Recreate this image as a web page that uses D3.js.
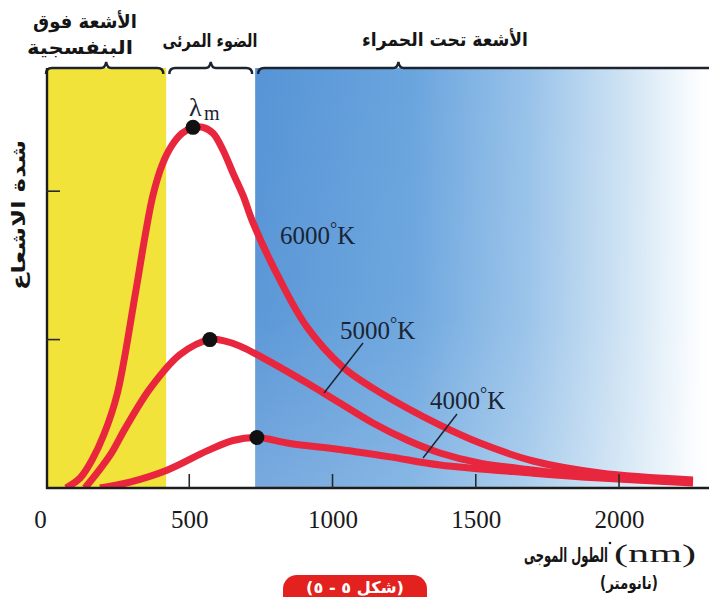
<!DOCTYPE html>
<html>
<head>
<meta charset="utf-8">
<script src="https://cdn.jsdelivr.net/npm/d3@7"></script>
<style>
  html, body { margin: 0; padding: 0; background: #fff; }
  svg { display: block; }
</style>
</head>
<body>
<svg id="chart" width="709" height="597"></svg>
<script>
// ---------------- data ----------------
const xTickValues = [0, 500, 1000, 1500, 2000];
const xTickLabels = ["0", "500", "1000", "1500", "2000"];
const yTickValues = [1, 2];

const regionNames = ["الأشعة فوق البنفسجية", "الضوء المرئى", "الأشعة تحت الحمراء"];
const regionStart = [0, 420, 730];
const regionEnd   = [420, 730, 2300];
const bracePeak   = [210, 575, 1230];

const wl6000 = [70, 119, 161, 202, 248, 311, 346, 373, 405, 440, 475, 513, 548, 583, 618, 653, 688, 722, 817, 911, 1036, 1141, 1260, 1375, 1515, 1700, 1934, 2258];
const v6000  = [0, 0.067, 0.19, 0.36, 0.63, 1.30, 1.70, 1.97, 2.175, 2.31, 2.39, 2.43, 2.43, 2.39, 2.276, 2.12, 1.97, 1.79, 1.40, 1.084, 0.815, 0.673, 0.539, 0.424, 0.303, 0.182, 0.101, 0.054];

const wl5000 = [136, 181, 230, 276, 363, 468, 572, 625, 677, 792, 911, 1026, 1141, 1260, 1375, 1515, 1700, 1934, 2258];
const v5000  = [0, 0.108, 0.24, 0.40, 0.67, 0.90, 1.00, 0.99, 0.956, 0.84, 0.707, 0.572, 0.438, 0.323, 0.236, 0.168, 0.121, 0.074, 0.04];

const wl4000 = [188, 293, 422, 562, 653, 736, 852, 1026, 1201, 1375, 1700, 1934, 2258];
const v4000  = [0, 0.04, 0.12, 0.25, 0.32, 0.34, 0.30, 0.26, 0.21, 0.155, 0.10, 0.067, 0.034];

const seriesNames = ["6000°K", "5000°K", "4000°K"];
const peakWl  = [513, 572, 736];
const peakVal = [2.43, 1.00, 0.34];

// ---------------- drawing ----------------
const svg = d3.select("#chart");
const W = 709;
const x = d3.scaleLinear().domain([0, 2300]).range([46, 705]);
const y = d3.scaleLinear().domain([0, 2.83]).range([488, 68]);

const defs = svg.append("defs");
const grad = defs.append("linearGradient").attr("id", "irGrad")
  .attr("x1", "0%").attr("x2", "100%").attr("y1", "0%").attr("y2", "0%");
[[0, "#5694d6"], [0.35, "#6aa5de"], [0.6, "#98c2e9"], [0.82, "#d0e4f4"], [0.96, "#f7fbfe"], [1, "#ffffff"]]
  .forEach(([o, c]) => grad.append("stop").attr("offset", o).attr("stop-color", c));
const grad2 = defs.append("linearGradient").attr("id", "irFade")
  .attr("x1", "0%").attr("x2", "0%").attr("y1", "0%").attr("y2", "100%");
[[0, "#ffffff", 0], [0.6, "#ffffff", 0.04], [1, "#ffffff", 0.2]]
  .forEach(([o, c, a]) => grad2.append("stop").attr("offset", o).attr("stop-color", c).attr("stop-opacity", a));

const regionFills = ["#f2e33a", "#ffffff", "url(#irGrad)"];
regionStart.forEach((s, i) => {
  const x0 = x(s), x1 = i === 2 ? W : x(regionEnd[i]);
  svg.append("rect").attr("x", x0).attr("y", y(2.83)).attr("width", x1 - x0)
    .attr("height", y(0) - y(2.83)).attr("fill", regionFills[i]);
});
svg.append("rect").attr("x", x(730)).attr("y", y(2.83)).attr("width", W - x(730))
  .attr("height", y(0) - y(2.83)).attr("fill", "url(#irFade)");

// top brackets
const topY = y(2.83);
regionStart.forEach((s, i) => {
  const x0 = x(s) + (i === 0 ? 0 : 3);
  const x1 = i === 2 ? W + 5 : x(regionEnd[i]) - 3;
  const xm = x(bracePeak[i]);
  const p = d3.path();
  p.moveTo(x0, topY + 6);
  p.quadraticCurveTo(x0, topY, x0 + 6, topY);
  p.lineTo(xm - 5, topY);
  p.quadraticCurveTo(xm - 1, topY, xm, topY - 6);
  p.quadraticCurveTo(xm + 1, topY, xm + 5, topY);
  p.lineTo(x1 - 6, topY);
  p.quadraticCurveTo(x1, topY, x1, topY + 6);
  svg.append("path").attr("d", p.toString()).attr("fill", "none")
    .attr("stroke", "#1d2430").attr("stroke-width", 2.4);
});

// curves (clipped to plot area)
defs.append("clipPath").attr("id", "plotClip").append("rect")
  .attr("x", x(0)).attr("y", topY).attr("width", W - x(0)).attr("height", y(0) - topY);
const line = d3.line().x(d => x(d[0])).y(d => y(d[1])).curve(d3.curveCatmullRom.alpha(0.5));
const series = [[wl6000, v6000], [wl5000, v5000], [wl4000, v4000]];
const gCurves = svg.append("g").attr("clip-path", "url(#plotClip)");
series.forEach(([wl, v]) => {
  gCurves.append("path").datum(wl.map((w, i) => [w, v[i]]))
    .attr("d", line).attr("fill", "none").attr("stroke", "#e8263d")
    .attr("stroke-width", 7).attr("stroke-linecap", "butt").attr("stroke-linejoin", "round");
});

// axes
svg.append("line").attr("x1", x(0) + 1).attr("x2", x(0) + 1).attr("y1", topY).attr("y2", y(0) + 1)
  .attr("stroke", "#1d1d1d").attr("stroke-width", 2.4);
svg.append("line").attr("x1", x(0)).attr("x2", W).attr("y1", y(0)).attr("y2", y(0))
  .attr("stroke", "#1d1d1d").attr("stroke-width", 2.6);

const xAxis = d3.axisBottom(x).tickValues(xTickValues).tickSize(0).tickFormat((d, i) => xTickLabels[i]).tickPadding(22);
const gx = svg.append("g").attr("transform", `translate(0,${y(0)})`).call(xAxis);
gx.select(".domain").remove();
gx.selectAll("text").attr("font-family", "Liberation Serif, serif").attr("font-size", 25)
  .attr("fill", "#1a1a1a");
gx.selectAll("text").filter(d => d === 0).attr("dx", -6);
xTickValues.filter(d => d > 0).forEach(d => {
  svg.append("line").attr("x1", x(d)).attr("x2", x(d)).attr("y1", y(0)).attr("y2", y(0) - 14)
    .attr("stroke", "#2a2a2a").attr("stroke-width", 1.6);
});
yTickValues.forEach(d => {
  svg.append("line").attr("x1", x(0)).attr("x2", x(0) + 14).attr("y1", y(d)).attr("y2", y(d))
    .attr("stroke", "#2a2a2a").attr("stroke-width", 1.6);
});

peakWl.forEach((w, i) => {
  svg.append("circle").attr("cx", x(w)).attr("cy", y(peakVal[i])).attr("r", 7.5).attr("fill", "#111");
});

// series labels and leaders
const serif = "Liberation Serif, serif";
function tempLabel(txt, lx, ly) {
  const t = svg.append("text").attr("x", lx).attr("y", ly).attr("font-family", serif)
    .attr("font-size", 25).attr("fill", "#1b2433");
  const num = txt.replace("°K", "");
  t.append("tspan").text(num);
  t.append("tspan").text("°").attr("font-size", 18).attr("dy", -9);
  t.append("tspan").text("K").attr("dy", 9);
}
tempLabel(seriesNames[0], 280, 244);
tempLabel(seriesNames[1], 340, 339);
tempLabel(seriesNames[2], 430, 409);
svg.append("line").attr("x1", 363).attr("y1", 343).attr("x2", 324).attr("y2", 393)
  .attr("stroke", "#1b2433").attr("stroke-width", 1.5);
svg.append("line").attr("x1", 457).attr("y1", 414).attr("x2", 423).attr("y2", 458)
  .attr("stroke", "#1b2433").attr("stroke-width", 1.5);

// lambda_m
svg.append("text").attr("x", 189).attr("y", 116).attr("font-family", serif).attr("font-size", 26)
  .attr("fill", "#1b2433").text("λ");
svg.append("text").attr("x", 204).attr("y", 120).attr("font-family", serif).attr("font-size", 20)
  .attr("fill", "#1b2433").text("m");

// Text fitted to a width by horizontal scaling (keeps Arabic joining intact)
const ar = "DejaVu Sans, sans-serif";
function fitText(txt, cx, by, size, targetW, opts = {}) {
  const g = svg.append("g");
  const t = g.append("text").attr("x", 0).attr("y", 0).attr("text-anchor", "middle")
    .attr("font-family", opts.family || ar).attr("font-weight", opts.weight || "bold")
    .attr("font-size", size).attr("fill", opts.fill || "#151515").text(txt);
  const w = t.node().getBBox().width || targetW;
  const sx = targetW / w;
  g.attr("transform", `translate(${cx},${by})${opts.rotate ? " rotate(" + opts.rotate + ")" : ""} scale(${sx},1)`);
  return g;
}
fitText("الأشعة فوق", 85, 28, 19, 104);
fitText("البنفسجية", 80, 54, 19, 106);
fitText(regionNames[1], 210, 47, 18, 95);
fitText(regionNames[2], 445, 46, 19, 166);

// y label
fitText("شدة الاشعاع", 25, 215, 19, 150, { rotate: -90 });

// x label
fitText("الطول الموجى", 566, 562, 20, 84);
fitText("(nm)", 655, 562, 26, 82, { family: serif, weight: "normal", fill: "#1a1a1a" });
svg.append("circle").attr("cx", 610).attr("cy", 543).attr("r", 1.3).attr("fill", "#1a1a1a");
fitText("(نانومتر)", 629, 589, 17, 58);

// figure badge
svg.append("rect").attr("x", 283).attr("y", 575).attr("width", 144).attr("height", 40)
  .attr("rx", 14).attr("fill", "#e3211f");
fitText("(شكل ٥ - ٥)", 355, 593, 16, 98, { fill: "#ffffff" });
</script>
</body>
</html>
